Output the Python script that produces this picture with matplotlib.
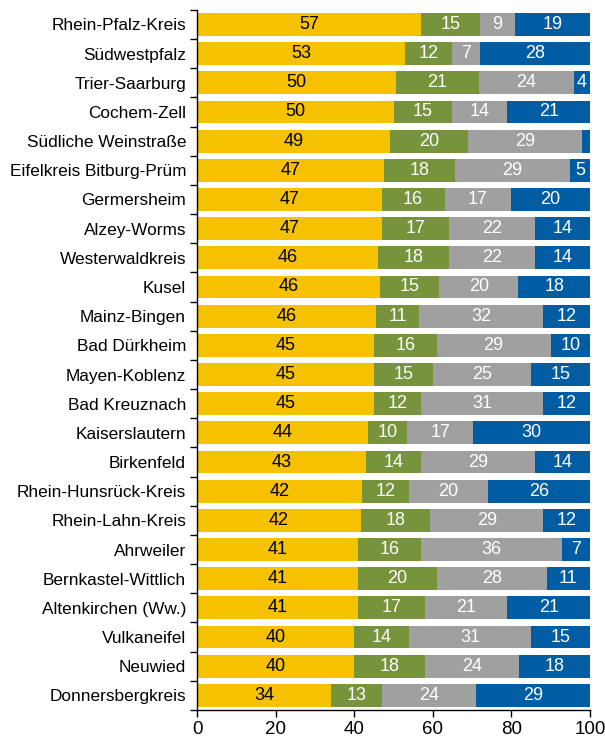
import matplotlib
matplotlib.use("Agg")
import matplotlib.pyplot as plt
import numpy as np

plt.rcParams['font.family'] = ['Liberation Sans', 'DejaVu Sans']

categories = ["Rhein-Pfalz-Kreis", "Südwestpfalz", "Trier-Saarburg", "Cochem-Zell",
              "Südliche Weinstraße", "Eifelkreis Bitburg-Prüm", "Germersheim", "Alzey-Worms",
              "Westerwaldkreis", "Kusel", "Mainz-Bingen", "Bad Dürkheim", "Mayen-Koblenz",
              "Bad Kreuznach", "Kaiserslautern", "Birkenfeld", "Rhein-Hunsrück-Kreis",
              "Rhein-Lahn-Kreis", "Ahrweiler", "Bernkastel-Wittlich", "Altenkirchen (Ww.)",
              "Vulkaneifel", "Neuwied", "Donnersbergkreis"]
s1 = [57, 53, 50, 50, 49, 47, 47, 47, 46, 46, 46, 45, 45, 45, 44, 43, 42, 42, 41, 41, 41, 40, 40, 34]
s2 = [15, 12, 21, 15, 20, 18, 16, 17, 18, 15, 11, 16, 15, 12, 10, 14, 12, 18, 16, 20, 17, 14, 18, 13]
s3 = [9, 7, 24, 14, 29, 29, 17, 22, 22, 20, 32, 29, 25, 31, 17, 29, 20, 29, 36, 28, 21, 31, 24, 24]
s4 = [19, 28, 4, 21, 2, 5, 20, 14, 14, 18, 12, 10, 15, 12, 30, 14, 26, 12, 7, 11, 21, 15, 18, 29]
x_ticks = [0, 20, 40, 60, 80, 100]

colors = ["#F5C100", "#77933C", "#A0A0A0", "#005DA3"]
text_colors = ["black", "white", "white", "white"]

data = np.array([s1, s2, s3, s4], dtype=float)
norm = data / data.sum(axis=0) * 100

fig = plt.figure(figsize=(6.05, 7.38), dpi=100)
ax = fig.add_axes([0.326, 0.038, 0.649, 0.9486])

n = len(categories)
y = np.arange(n)
left = np.zeros(n)
for k in range(4):
    ax.barh(y, norm[k], left=left, height=0.78, color=colors[k], edgecolor='none')
    for i in range(n):
        if data[k, i] >= 3:
            ax.text(left[i] + norm[k, i] / 2, y[i], f"{int(data[k, i])}",
                    ha='center', va='center', color=text_colors[k], fontsize=13)
    left += norm[k]

ax.set_ylim(n - 0.5, -0.5)
ax.set_xlim(0, 100)
ax.set_yticks(y)
ax.set_yticklabels(categories, fontsize=12.4)
ax.set_yticks(np.arange(n + 1) - 0.5, minor=True)
ax.tick_params(axis='y', which='major', length=0, pad=8)
ax.tick_params(axis='y', which='minor', length=5, direction='out', width=1)
ax.set_xticks(x_ticks)
ax.set_xticklabels([str(t) for t in x_ticks], fontsize=13.5)
ax.tick_params(axis='x', length=5, direction='out', width=1, pad=3)
for sp in ['top', 'right']:
    ax.spines[sp].set_visible(False)
ax.spines['left'].set_linewidth(1)
ax.spines['bottom'].set_linewidth(1)

fig.savefig("out.png", dpi=100)
